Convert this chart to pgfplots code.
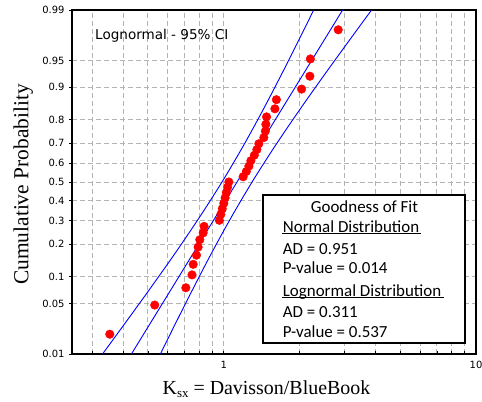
\documentclass[border=0pt]{standalone}
\usepackage{fontspec}
\setmainfont{Liberation Serif}
\newfontfamily\dejavu{DejaVu Sans}
\newfontfamily\calibri{Carlito}
\usepackage{pgfplots}
\pgfplotsset{compat=1.18}
\definecolor{gridgray}{RGB}{180,180,180}
\definecolor{ciblue}{RGB}{0,0,255}
\newcommand\tl[1]{\mbox{\dejavu\fontsize{10}{12}\selectfont #1}}

\begin{document}
\begin{tikzpicture}
\path[use as bounding box] (-72bp,-48bp) rectangle (410bp,354bp);
\begin{axis}[
  at={(0,0)}, anchor=south west,
  scale only axis, width=404bp, height=344bp,
  xmode=log, xmin=0.25, xmax=10,
  ymin=-2.3263, ymax=2.3263,
  xtick={1,10}, xticklabels={\tl{1},\tl{10}},
  minor xtick={0.3,0.4,0.5,0.6,0.7,0.8,0.9,2,3,4,5,6,7,8,9},
  ytick={-2.3263,-1.6449,-1.2816,-0.8416,-0.5244,-0.2533,0,0.2533,0.5244,0.8416,1.2816,1.6449,2.3263},
  yticklabels={\tl{0.01},\tl{0.05},\tl{0.1},\tl{0.2},\tl{0.3},\tl{0.4},\tl{0.5},\tl{0.6},\tl{0.7},\tl{0.8},\tl{0.9},\tl{0.95},\tl{0.99}},
  xtick pos=bottom, ytick pos=left,
  xtick align=inside, ytick align=outside,
  major tick length=3bp, minor tick length=3bp,
  grid=both,
  major grid style={gridgray, dash pattern=on 5bp off 3bp, line width=0.9bp},
  minor grid style={gridgray, dash pattern=on 5bp off 3bp, line width=0.9bp},
  axis line style={line width=1.2bp},
  tick style={black, line width=0.8bp},
  /pgf/number format/assume math mode=true,
  yticklabel style={xshift=-1bp},
  xticklabel style={yshift=-4bp},
  xlabel={K\raisebox{-0.35ex}{\fontsize{13}{13}\selectfont sx} = Davisson/BlueBook},
  xlabel style={font=\fontsize{20}{24}\selectfont, at={(axis description cs:0.4814,-0.1163)}, anchor=base},
  ylabel={Cumulative Probability},
  ylabel style={font=\fontsize{21.5}{25}\selectfont, at={(axis description cs:-0.1077,0.4927)}, anchor=base},
  clip=true,
]
% fitted line
\addplot[ciblue, line width=0.9bp] coordinates {(0.4302,-2.3263) (2.959,2.3263)};
% confidence bounds
\addplot[ciblue, line width=0.9bp, smooth] coordinates {
(0.3304,-2.3263) (0.3883,-2) (0.4960,-1.5) (0.6302,-1) (0.7927,-0.5) (0.9835,0)
(1.2000,0.5) (1.4434,1) (1.7199,1.5) (2.0377,2) (2.2716,2.3263)};
\addplot[ciblue, line width=0.9bp, smooth] coordinates {
(0.5604,-2.3263) (0.6248,-2) (0.7404,-1.5) (0.8819,-1) (1.0610,-0.5) (1.2942,0)
(1.6061,0.5) (2.0206,1) (2.5667,1.5) (3.2790,2) (3.8541,2.3263)};
% data
\addplot[only marks, mark=*, mark size=4.3bp, color=red, fill=red] coordinates {
(0.353,-2.0585) (0.532,-1.6644) (0.707,-1.4306) (0.748,-1.2562) (0.756,-1.1134)
(0.779,-0.9903) (0.791,-0.8806) (0.803,-0.7806) (0.828,-0.6879) (0.835,-0.6007)
(0.960,-0.5179) (0.973,-0.4385) (0.986,-0.3618) (1.000,-0.2871) (1.012,-0.2141)
(1.023,-0.1421) (1.035,-0.0709) (1.047,0)
(1.193,0.0709) (1.228,0.1421) (1.257,0.2141) (1.280,0.2871) (1.321,0.3618)
(1.352,0.4385) (1.377,0.5179) (1.441,0.6007) (1.461,0.6879) (1.468,0.7806)
(1.477,0.8806) (1.594,0.9903) (1.616,1.1134) (2.034,1.2562) (2.194,1.4306)
(2.204,1.6644) (2.842,2.0585)};
% annotation
\node[anchor=base west, inner sep=0pt, font=\dejavu\fontsize{13.6}{15}\selectfont] at (axis description cs:0.057,0.9128) {Lognormal - 95\% CI};
% goodness-of-fit box
\draw[fill=white, line width=1.3bp] (axis description cs:0.473,0.032) rectangle (axis description cs:0.973,0.462);
\begin{scope}[every node/.style={inner sep=0pt, font=\calibri\fontsize{17}{20}\selectfont}]
\node[anchor=base] at (axis description cs:0.724,0.4108) {Goodness of Fit};
\node[anchor=base west] at (axis description cs:0.5215,0.3538) {Normal Distribution};
\node[anchor=base west] at (axis description cs:0.5215,0.2907) {AD = 0.951};
\node[anchor=base west] at (axis description cs:0.5215,0.2346) {P-value = 0.014};
\node[anchor=base west] at (axis description cs:0.5215,0.1686) {Lognormal Distribution};
\node[anchor=base west] at (axis description cs:0.5215,0.1067) {AD = 0.311};
\node[anchor=base west] at (axis description cs:0.5215,0.0485) {P-value = 0.537};
\end{scope}
\draw[line width=1.5bp] (axis description cs:0.5198,0.3503) -- (axis description cs:0.8639,0.3503);
\draw[line width=1.5bp] (axis description cs:0.5198,0.1642) -- (axis description cs:0.9208,0.1642);
\end{axis}
\end{tikzpicture}
\end{document}
